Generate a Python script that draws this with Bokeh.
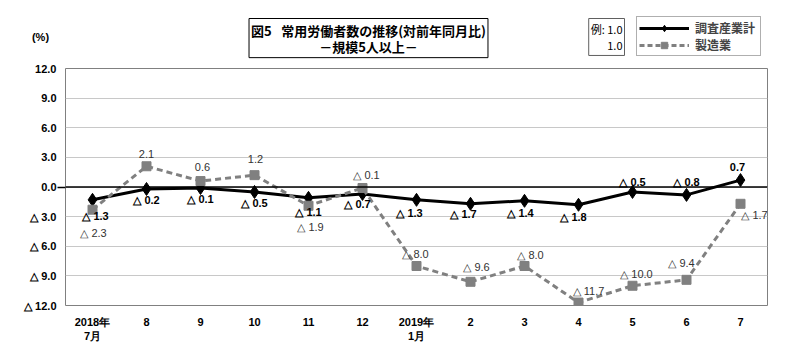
from bokeh.plotting import figure
from bokeh.layouts import column
from bokeh.models import FactorRange, FixedTicker, Label, Legend, LegendItem, Span, LinearAxis
from bokeh.core.properties import value
from bokeh.embed import file_html
from bokeh.resources import INLINE

# ---- data ----
months = ["2018年\n7月", "8", "9", "10", "11", "12", "2019年\n1月", "2", "3", "4", "5", "6", "7"]
total = [-1.3, -0.2, -0.1, -0.5, -1.1, -0.7, -1.3, -1.7, -1.4, -1.8, -0.5, -0.8, 0.7]
manuf = [-2.3, 2.1, 0.6, 1.2, -1.9, -0.1, -8.0, -9.6, -8.0, -11.7, -10.0, -9.4, -1.7]
y_ticks = [-12, -9, -6, -3, 0, 3, 6, 9, 12]
series_names = ["調査産業計", "製造業"]
title_text = "図5\u2002\u00a0常用労働者数の推移(対前年同月比)\n－規模5人以上－"
example_text = "例: 1.0\n1.0"
unit_text = "(%)"

# label placement (styling, pixel offsets)
total_dx = [3, 0, 0, 0, 0, -5, -7, -7, -4, -5, 0, 0, -3]
total_dy = [16, 11, 11, 11, 14, 10, 13, 10, 12, 12, -10, -13, -13]
manuf_dx = [1, 0, 2, 1, 2, 4, -1, 6, 6, 10, 4, -5, 14]
manuf_dy = [23, -12, -14, -16, 21, -13, -12, -15, -11, -12, -12, -17, 11]


def fmt(v):
    return ("△ %.1f" % abs(v)) if v < 0 else "%.1f" % v


NUM_FONT = "Liberation Sans"
JP_FONT = "Noto Sans CJK JP"
W = 792
NAN = float("nan")

# ---------- header strip (title, legend) ----------
h = figure(width=W, height=60, x_range=(0, W), y_range=(0, 60), output_backend="svg",
           toolbar_location=None, x_axis_type=None, y_axis_type=None,
           min_border_left=0, min_border_right=0, min_border_top=0, min_border_bottom=0)
h.frame_align = False
h.xgrid.visible = False
h.ygrid.visible = False
h.outline_line_color = None

# legend proxies (no visible data)
hl_t = h.line([NAN], [NAN], line_color="black", line_width=3)
hs_t = h.scatter([NAN], [NAN], marker="diamond", size=11, color="black")
hl_m = h.line([NAN], [NAN], line_color="#808080", line_width=3, line_dash="5 3")
hs_m = h.scatter([NAN], [NAN], marker="square", size=8, color="#808080")
legend = Legend(items=[LegendItem(label=series_names[0], renderers=[hl_t, hs_t]),
                       LegendItem(label=series_names[1], renderers=[hl_m, hs_m])],
                location=(636, 4), orientation="vertical",
                border_line_color="#606060", border_line_width=1,
                background_fill_color="white", background_fill_alpha=1,
                padding=2, spacing=0, margin=0, glyph_width=50, glyph_height=16,
                label_height=16, label_width=63, label_standoff=6,
                label_text_font=JP_FONT, label_text_font_size="12px",
                label_text_font_style="bold", label_text_baseline="middle")
h.add_layout(legend)

# title box with shadow
h.add_layout(Label(x=371, y=39, text=title_text,
                   text_align="center", text_baseline="top", text_font=JP_FONT,
                   text_font_size="13px", text_font_style="bold", text_alpha=0,
                   background_fill_color="#808080", padding=2, text_line_height=0.85))
h.add_layout(Label(x=368, y=42, text=title_text,
                   text_align="center", text_baseline="top", text_font=JP_FONT,
                   text_font_size="13px", text_font_style="bold", text_color="black",
                   background_fill_color="white", border_line_color="black",
                   padding=2, text_line_height=0.85))
# example box
h.add_layout(Label(x=624, y=42, text=example_text,
                   text_align="right", text_baseline="top", text_font=JP_FONT,
                   text_font_size="11px", text_color="black",
                   background_fill_color="white", border_line_color="#606060",
                   padding=2, text_line_height=1.06))
h.add_layout(Label(x=40, y=24, text=unit_text,
                   text_align="center", text_baseline="middle", text_font=NUM_FONT,
                   text_font_size="11px", text_font_style="bold", text_color="black"))

# ---------- main chart ----------
p = figure(width=W, height=294, x_range=FactorRange(factors=months), y_range=(-12, 12),
           output_backend="svg", toolbar_location=None,
           min_border_left=65, min_border_right=25, min_border_top=8, min_border_bottom=49)
p.outline_line_color = "#808080"
p.outline_line_width = 1

p.xgrid.visible = False
p.ygrid.ticker = FixedTicker(ticks=y_ticks)
p.ygrid.grid_line_color = "#c8c8c8"
p.ygrid.grid_line_width = 1

p.yaxis.ticker = FixedTicker(ticks=y_ticks)
p.yaxis.major_label_overrides = {t: fmt(t) for t in y_ticks}
for ax in (p.xaxis[0], p.yaxis[0]):
    ax.axis_line_color = None
    ax.major_tick_out = 0
    ax.major_tick_in = 0
    ax.minor_tick_out = 0
    ax.minor_tick_in = 0
    ax.major_label_text_font = NUM_FONT
    ax.major_label_text_font_size = "11px"
    ax.major_label_text_font_style = "bold"
    ax.major_label_text_color = "black"
p.yaxis.major_label_standoff = 1
p.xaxis.major_label_standoff = 10

# small outward tick at zero only
zero_axis = LinearAxis(ticker=FixedTicker(ticks=[0]), axis_line_color=None,
                       major_tick_out=8, major_tick_in=0, minor_tick_out=0, minor_tick_in=0,
                       major_tick_line_color="black", major_tick_line_width=1.5,
                       major_label_overrides={0: ""}, major_label_standoff=0)
p.left = [zero_axis] + list(p.left)

p.add_layout(Span(location=0, dimension="width", line_color="black", line_width=1.5))

r_tl = p.line(months, total, line_color="black", line_width=3)
r_ts = p.scatter(months, total, marker="diamond", size=13, color="black")
r_ml = p.line(months, manuf, line_color="#808080", line_width=3, line_dash="6 4")
r_ms = p.scatter(months, manuf, marker="square", size=9, color="#808080")

p.text(x=months, y=total, text=[fmt(v) for v in total], x_offset=total_dx, y_offset=total_dy,
       text_align="center", text_baseline="middle", text_font_size="11px",
       text_font_style="bold", text_font=value(NUM_FONT), text_color="black")
p.text(x=months, y=manuf, text=[fmt(v) for v in manuf], x_offset=manuf_dx, y_offset=manuf_dy,
       text_align="center", text_baseline="middle", text_font_size="11px",
       text_font=value(NUM_FONT), text_color="#333333")

layout = column(h, p, spacing=0)
open("out.html", "w").write(file_html(layout, INLINE))
